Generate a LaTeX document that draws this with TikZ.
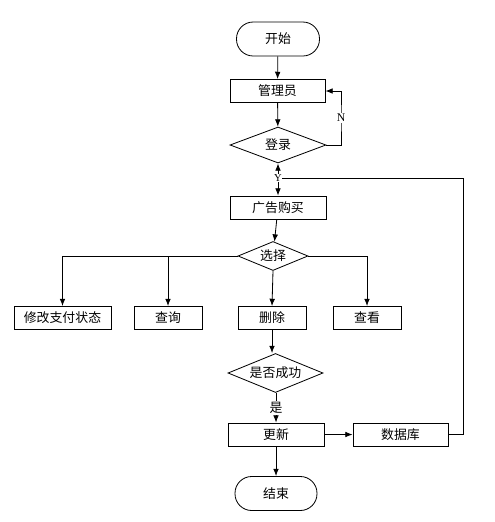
\documentclass[tikz,border=0pt]{standalone}
\usepackage{fontspec}
\setmainfont{Liberation Serif}
\newfontfamily\cjk{Noto Sans CJK SC}
\usetikzlibrary{shapes.geometric,arrows.meta}

\begin{document}
\begin{tikzpicture}[x=0.03cm, y=-0.03cm, line width=0.7pt, >={Latex[length=2.2mm,width=1.7mm]},
    box/.style={draw, rectangle, minimum height=0.69cm, inner sep=1pt, font=\cjk\fontsize{11}{12}\selectfont},
    term/.style={draw, rectangle, rounded corners=0.5cm, minimum width=2.49cm, minimum height=1.02cm, font=\cjk\fontsize{11}{12}\selectfont},
    decide/.style={draw, diamond, aspect=2.4, inner sep=0pt, font=\cjk\fontsize{11}{12}\selectfont},
    tag/.style={fill=white, inner sep=1pt, font=\fontsize{10}{11}\selectfont}]
    \useasboundingbox (0,0) rectangle (495,522);

    % Main column
    \node[term] (start) at (278,39) {开始};
    \node[box, minimum width=2.85cm] (admin) at (277.5,91) {管理员};
    \node[decide, minimum width=2.88cm, minimum height=1.08cm] (login) at (278,145) {登录};
    \node[box, minimum width=2.88cm] (buy) at (278,207.5) {广告购买};
    \node[decide, minimum width=2.1cm, minimum height=0.87cm] (choose) at (273,256) {选择};

    % Four choices
    \node[box, minimum width=2.91cm] (modify) at (62.5,318) {修改支付状态};
    \node[box, minimum width=2.04cm] (query) at (168,318) {查询};
    \node[box, minimum width=2.04cm] (delete) at (272,318) {删除};
    \node[box, minimum width=2.04cm] (view) at (367,318) {查看};

    % Result
    \node[decide, minimum width=2.85cm, minimum height=1.17cm] (ok) at (275.5,373) {是否成功};
    \node[box, minimum width=2.88cm] (update) at (276,434.5) {更新};
    \node[box, minimum width=2.85cm] (db) at (400.5,434.5) {数据库};
    \node[term, minimum width=2.46cm] (end) at (276,493.5) {结束};

    % Helper points
    \coordinate (nx) at (341,118);
    \coordinate (yj) at (278,178);
    \coordinate (rt) at (463,178);

    % Arrows
    \draw[->] (start) -- (admin);
    \draw[->] (admin) -- (login);
    \draw[->] (login.east) -| (nx) |- (admin.east);
    \node[tag] (nlabel) at (nx) {N};
    \draw[->] (yj) -- (login.south);
    \draw[->] (yj) -- (buy.north);
    \draw[->] (buy) -- (choose);
    \draw[->] (choose.west) -| (modify.north);
    \draw[->] (choose.west) -| (query.north);
    \draw[->] (choose.south) -- (delete.north);
    \draw[->] (choose.east) -| (view.north);
    \draw[->] (delete.south) -- (ok.north -| delete.south);
    \draw[->] (ok.south -| update.north) -- node[tag, font=\cjk\fontsize{11}{12}\selectfont] (yes) {是} (update.north);
    \draw[->] (update) -- (db);
    \draw[->] (update) -- (end);
    \draw (db.east) -| (rt) -- (yj);
    \node[fill=white, inner sep=0.3pt, font=\fontsize{9}{10}\selectfont] (ylabel) at (yj) {Y};
\end{tikzpicture}
\end{document}
